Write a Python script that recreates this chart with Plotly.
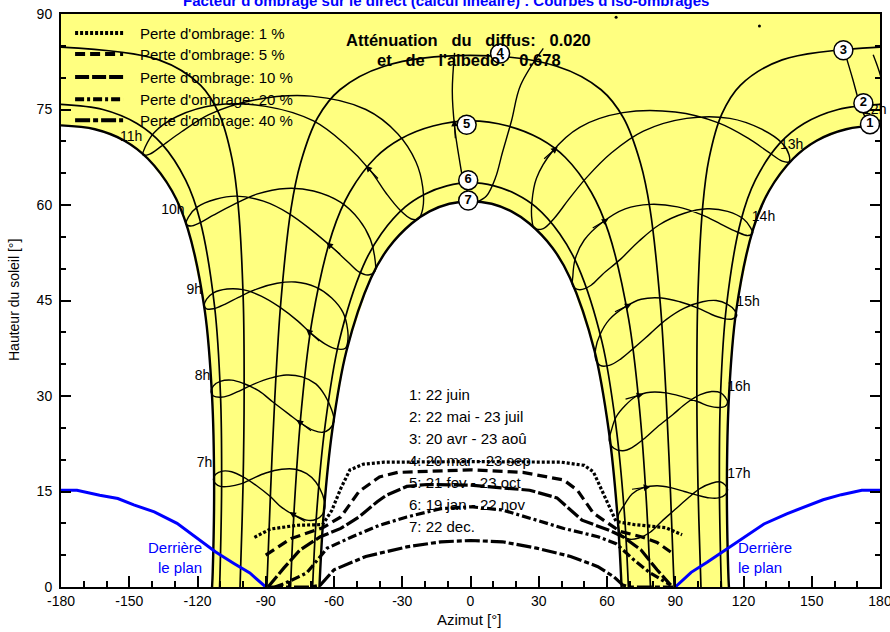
import math
import plotly.graph_objects as go

# ------------------------------------------------------------------ data
TITLE = "Facteur d'ombrage sur le direct (calcul linéaire) : Courbes d'iso-ombrages"
DIFFUSE_ATT = 0.020
ALBEDO_ATT = 0.678

DATE_LABELS = ["1: 22 juin", "2: 22 mai - 23 juil", "3: 20 avr - 23 aoû", "4: 20 mar - 23 sep",
               "5: 21 fev - 23 oct", "6: 19 jan - 22 nov", "7: 22 dec."]

# sun paths for the 7 dates : azimuth [deg] / sun height [deg]
P1_AZ = [-113.6, -113.3, -112.7, -113.6, -116.8, -124.3, -131.2, -141.9, -152.1, -165.1, -180.0,
         180.0, 165.1, 152.1, 141.9, 131.2, 124.3, 116.8, 113.6, 112.7, 113.3, 113.6]
P1_ALT = [0.0, 2.4, 16.1, 29.9, 43.4, 56.3, 62.2, 67.3, 70.1, 71.9, 72.5,
          72.5, 71.9, 70.1, 67.3, 62.2, 56.3, 43.4, 29.9, 16.1, 2.4, 0.0]
P2_AZ = [-110.3, -110.1, -109.4, -109.9, -112.5, -118.9, -125.2, -135.7, -146.6, -161.6, -180.0,
         180.0, 161.6, 146.6, 135.7, 125.2, 118.9, 112.5, 109.9, 109.4, 110.1, 110.3]
P2_ALT = [0.0, 2.1, 16.1, 30.2, 44.1, 57.6, 63.9, 69.6, 72.8, 75.0, 75.8,
          75.8, 75.0, 72.8, 69.6, 63.9, 57.6, 44.1, 30.2, 16.1, 2.1, 0.0]
P3_AZ = [-101.3, -101.2, -100.0, -99.5, -99.9, -102.1, -104.8, -110.5, -118.6, -137.0, -180.0,
         180.0, 137.0, 118.6, 110.5, 104.8, 102.1, 99.9, 99.5, 100.0, 101.2, 101.3]
P3_ALT = [0.0, 1.2, 15.8, 30.5, 45.2, 59.9, 67.2, 74.3, 78.8, 82.8, 84.8,
          84.8, 82.8, 78.8, 74.3, 67.2, 59.9, 45.2, 30.5, 15.8, 1.2, 0.0]
P4_AZ = [-89.5, -87.9, -86.0, -83.4, -78.9, -74.7, -67.2, -57.4, -37.9, 0.0,
         37.9, 57.4, 67.2, 74.7, 78.9, 83.4, 86.0, 87.9, 89.5]
P4_ALT = [0.0, 14.9, 29.8, 44.6, 59.4, 66.6, 73.7, 78.1, 81.8, 83.5,
          81.8, 78.1, 73.7, 66.6, 59.4, 44.6, 29.8, 14.9, 0.0]
P5_AZ = [-79.1, -77.3, -74.3, -69.5, -60.7, -53.1, -41.6, -30.6, -16.5, 0.0,
         16.5, 30.6, 41.6, 53.1, 60.7, 69.5, 74.3, 77.3, 79.1]
P5_ALT = [0.0, 13.5, 28.0, 42.1, 55.7, 62.0, 67.5, 70.4, 72.4, 73.2,
          72.4, 70.4, 67.5, 62.0, 55.7, 42.1, 28.0, 13.5, 0.0]
P6_AZ = [-69.4, -67.6, -63.9, -57.8, -47.2, -39.2, -28.7, -20.1, -10.4, 0.0,
         10.4, 20.1, 28.7, 39.2, 47.2, 57.8, 63.9, 67.6, 69.4]
P6_ALT = [0.0, 11.8, 25.4, 38.5, 50.4, 55.5, 59.7, 61.7, 63.0, 63.5,
          63.0, 61.7, 59.7, 55.5, 50.4, 38.5, 25.4, 11.8, 0.0]
P7_AZ = [-66.4, -64.6, -60.8, -54.5, -43.8, -36.0, -25.9, -18.0, -9.3, 0.0,
         9.3, 18.0, 25.9, 36.0, 43.8, 54.5, 60.8, 64.6, 66.4]
P7_ALT = [0.0, 11.2, 24.5, 37.1, 48.5, 53.3, 57.1, 59.0, 60.2, 60.6,
          60.2, 59.0, 57.1, 53.3, 48.5, 37.1, 24.5, 11.2, 0.0]

# hour lines (analemmas), one point every ~15 days starting 22 Dec
H07_AZ = [-64, -65, -68, -72, -77, -83, -88, -94, -100, -105, -109, -112, -113, -112, -110, -106, -101, -96, -90, -83, -77, -72, -68, -65]
H07_ALT = [12.7, 11.4, 10.6, 10.5, 11.2, 12.5, 14.2, 15.9, 17.3, 18.1, 18.2, 17.7, 16.9, 16.2, 15.8, 15.8, 16.2, 17.0, 17.9, 18.5, 18.5, 17.8, 16.5, 14.5]
H08_AZ = [-60, -62, -65, -69, -74, -80, -87, -93, -100, -105, -110, -113, -114, -113, -110, -106, -101, -95, -88, -81, -74, -68, -64, -61]
H08_ALT = [26.0, 24.8, 24.3, 24.6, 25.6, 27.2, 29.1, 30.8, 32.0, 32.5, 32.3, 31.6, 30.6, 30.0, 29.8, 30.1, 30.9, 31.9, 32.8, 33.3, 33.0, 31.9, 30.1, 27.8]
H09_AZ = [-54, -55, -59, -64, -70, -76, -84, -92, -100, -107, -113, -116, -117, -116, -113, -108, -102, -94, -85, -77, -68, -61, -56, -54]
H09_ALT = [38.5, 37.5, 37.4, 38.2, 39.8, 41.8, 44.0, 45.7, 46.7, 46.8, 46.2, 45.2, 44.1, 43.7, 43.7, 44.4, 45.5, 46.8, 47.7, 47.9, 47.1, 45.4, 43.1, 40.4]
H10_AZ = [-42, -45, -49, -54, -61, -70, -80, -91, -103, -112, -120, -124, -125, -123, -119, -113, -104, -94, -81, -69, -57, -49, -44, -42]
H10_ALT = [49.6, 49.0, 49.5, 51.1, 53.4, 56.1, 58.7, 60.6, 61.4, 60.9, 59.7, 58.1, 57.0, 56.7, 57.2, 58.4, 60.1, 61.7, 62.6, 62.2, 60.4, 57.7, 54.6, 51.5]
H11_AZ = [-23, -26, -31, -37, -44, -55, -69, -90, -112, -129, -139, -143, -144, -141, -136, -127, -115, -95, -70, -46, -32, -24, -21, -21]
H11_ALT = [57.8, 57.8, 59.2, 61.8, 65.4, 69.5, 73.2, 75.5, 75.7, 73.9, 71.4, 69.1, 67.9, 68.0, 69.2, 71.5, 74.2, 76.5, 77.1, 75.0, 71.2, 66.8, 62.8, 59.4]
H12_AZ = [3, 0, -3, -5, -7, -8, -7, 64, 164, 168, 171, 174, 177, 180, 181, 181, 177, 127, 32, 22, 18, 14, 11, 7]
H12_ALT = [60.5, 61.3, 63.7, 67.4, 72.3, 77.9, 83.9, 89.5, 84.6, 79.8, 76.0, 73.5, 72.5, 73.3, 75.6, 79.1, 83.6, 88.1, 84.6, 78.8, 73.2, 68.2, 64.3, 61.4]
H13_AZ = [28, 27, 27, 29, 36, 48, 67, 90, 109, 122, 131, 137, 140, 140, 137, 128, 114, 95, 76, 62, 51, 43, 37, 32]
H13_ALT = [56.4, 57.7, 60.5, 64.2, 68.4, 72.2, 74.5, 74.6, 72.9, 70.5, 68.3, 66.9, 66.8, 67.9, 69.7, 71.9, 73.6, 73.6, 71.6, 68.2, 64.3, 60.8, 58.0, 56.3]
H14_AZ = [45, 45, 46, 50, 58, 68, 79, 91, 102, 110, 117, 122, 124, 123, 120, 113, 104, 94, 83, 74, 66, 58, 53, 48]
H14_ALT = [47.3, 48.9, 51.5, 54.5, 57.3, 59.4, 60.1, 59.7, 58.4, 57.0, 55.8, 55.2, 55.6, 56.5, 57.8, 59.0, 59.4, 58.7, 56.9, 54.3, 51.5, 49.1, 47.4, 46.7]
H15_AZ = [55, 55, 57, 61, 68, 75, 84, 92, 100, 106, 111, 115, 117, 116, 113, 108, 102, 94, 86, 79, 72, 66, 61, 57]
H15_ALT = [35.8, 37.4, 39.7, 42.0, 44.0, 45.2, 45.4, 44.8, 43.8, 42.8, 42.2, 42.1, 42.6, 43.5, 44.4, 45.0, 44.8, 43.8, 42.0, 39.8, 37.6, 35.8, 34.8, 34.8]
H16_AZ = [61, 62, 64, 68, 73, 79, 86, 93, 100, 105, 109, 112, 113, 112, 110, 106, 101, 95, 89, 82, 76, 71, 67, 63]
H16_ALT = [23.0, 24.7, 26.7, 28.5, 30.0, 30.6, 30.5, 29.9, 29.1, 28.4, 28.2, 28.4, 29.1, 29.8, 30.5, 30.7, 30.2, 28.9, 27.1, 25.1, 23.2, 21.9, 21.4, 21.8]
H17_AZ = [65, 65, 68, 71, 76, 82, 88, 94, 100, 105, 109, 112, 113, 112, 110, 106, 101, 96, 90, 84, 79, 74, 70, 66]
H17_ALT = [9.7, 11.3, 13.1, 14.6, 15.6, 15.9, 15.6, 15.0, 14.4, 14.0, 14.0, 14.5, 15.3, 16.0, 16.5, 16.3, 15.5, 14.1, 12.2, 10.3, 8.6, 7.7, 7.5, 8.3]

# iso-shading curves
ISO_NAMES = ["Perte d'ombrage: 1 %", "Perte d'ombrage: 5 %", "Perte d'ombrage: 10 %",
             "Perte d'ombrage: 20 %", "Perte d'ombrage: 40 %"]
ISO1_AZ = [-95, -88, -76, -65, -61, -57, -53, -47, -38, 0, 40, 50, 54, 57, 61, 64, 72, 79, 86, 93]
ISO1_ALT = [7.8, 9.1, 9.7, 9.8, 12.0, 15.5, 18.4, 19.3, 19.6, 19.7, 19.6, 19.1, 18.1, 15.7, 12.6, 10.3, 9.8, 9.6, 9.3, 8.2]
ISO2_AZ = [-90, -79, -65, -57, -49, -40, -32, 0, 23, 41, 47, 54, 63, 66, 75, 82, 88]
ISO2_ALT = [5.0, 7.6, 9.3, 11.0, 15.0, 17.3, 18.0, 18.4, 18.0, 16.8, 15.2, 11.6, 9.4, 8.7, 7.9, 7.0, 5.5]
ISO3_AZ = [-89, -82, -75, -66, -57, -49, -41, -37, -28, -19, 0, 26, 38, 44, 49, 61, 67, 75, 82, 88]
ISO3_ALT = [0.0, 3.0, 5.8, 7.9, 9.2, 11.0, 13.4, 14.4, 15.8, 16.1, 16.0, 15.2, 14.0, 12.1, 10.5, 8.9, 7.9, 5.8, 2.7, 0.3]
ISO4_AZ = [-86, -82, -72, -63, -52, -40, -28, -13, 0, 14, 29, 41, 56, 64, 72, 79, 88]
ISO4_ALT = [0.0, 0.5, 2.2, 6.1, 7.9, 9.7, 11.0, 12.3, 12.6, 12.1, 10.5, 9.2, 7.9, 6.8, 4.2, 2.2, 0.3]
ISO5_AZ = [-89, -70, -66, -60, -46, -28, -13, 0, 14, 29, 44, 56, 63, 67, 70, 89]
ISO5_ALT = [0.0, 0.0, 0.3, 2.7, 4.8, 6.3, 7.1, 7.3, 7.1, 6.1, 4.8, 3.2, 1.6, 0.3, 0.0, 0.0]

# "behind the plane" limit
BEHIND_L_AZ = [-180, -173, -163, -155, -148, -139, -129, -119, -112, -104, -97, -90]
BEHIND_L_ALT = [15.2, 15.2, 14.4, 13.9, 12.9, 11.8, 10.0, 7.4, 5.5, 3.7, 2.2, 0.0]
BEHIND_R_AZ = [90, 97, 104, 112, 119, 129, 139, 148, 155, 163, 172, 180]
BEHIND_R_ALT = [0.0, 2.3, 3.9, 5.8, 7.5, 9.9, 11.5, 12.8, 13.7, 14.5, 15.2, 15.2]

# date markers
MARK_TXT = ["1", "2", "3", "4", "5", "6", "7"]
MARK_AZ = [175.6, 172.7, 163.9, 13.0, -1.7, -1.0, -1.0]
MARK_ALT = [72.7, 76.0, 84.3, 83.8, 72.6, 63.9, 60.7]

HOUR_LABELS = ["11h", "10h", "9h", "8h", "7h", "12h", "13h", "14h", "15h", "16h", "17h"]

X_TICKS = [-180, -150, -120, -90, -60, -30, 0, 30, 60, 90, 120, 150, 180]
X_TICKTEXT = ["-180", "-150", "-120", "-90", "-60", "-30", "0", "30", "60", "90", "120", "150", "180"]
Y_TICKS = [0, 15, 30, 45, 60, 75, 90]
Y_TICKTEXT = ["0", "15", "30", "45", "60", "75", "90"]

# ------------------------------------------------------------------ layout constants (positions / styles)
FONT = "Liberation Sans"
YELLOW = "#FFFF80"
BLUE = "#0000FF"
HOUR_LABEL_POS = [(-149.2, 70.6), (-130.8, 59.2), (-121.4, 46.5), (-117.8, 33.0), (-116.9, 19.4),
                  (177.7, 74.9), (141.2, 69.3), (128.8, 58.0), (122.0, 44.7), (118.0, 31.3), (118.0, 17.7)]
ISO_DASH = ["3px,2px", "10px,5px", "14px,3px", "9px,3px,3px,3px", "15px,3px,5px,3px"]
PX_PER_X = 819 / 360.0
PX_PER_Y = 573 / 90.0


def split_wrap(az, alt, thr):
    """Insert gaps where the azimuth jumps (wrap-around or near the zenith)."""
    X, Y = [], []
    prev = None
    for a, e in zip(az, alt):
        if prev is not None and abs(a - prev) > thr:
            X.append(None)
            Y.append(None)
        X.append(a)
        Y.append(e)
        prev = a
    return X, Y


fig = go.Figure()

# yellow area swept by the sun (between 22 June and 22 December paths)
wrap = [i for i in range(1, len(P1_AZ)) if abs(P1_AZ[i] - P1_AZ[i - 1]) > 180][0]
fill_x = [-180] + P1_AZ[:wrap][::-1] + P7_AZ + P1_AZ[wrap:][::-1] + [180]
fill_y = [90] + P1_ALT[:wrap][::-1] + P7_ALT + P1_ALT[wrap:][::-1] + [90]
fig.add_trace(go.Scatter(x=fill_x, y=fill_y, mode="lines", fill="toself", fillcolor=YELLOW,
                         line=dict(width=0), hoverinfo="skip"))

# hour lines
hour_sets = [(H07_AZ, H07_ALT), (H08_AZ, H08_ALT), (H09_AZ, H09_ALT), (H10_AZ, H10_ALT),
             (H11_AZ, H11_ALT), (H12_AZ, H12_ALT), (H13_AZ, H13_ALT), (H14_AZ, H14_ALT),
             (H15_AZ, H15_ALT), (H16_AZ, H16_ALT), (H17_AZ, H17_ALT)]
dot_x, dot_y = [], []
for az, alt in hour_sets:
    X, Y = split_wrap(az + az[:1], alt + alt[:1], 30)
    fig.add_trace(go.Scatter(x=X, y=Y, mode="lines", line=dict(color="black", width=1.4, shape="spline"),
                             hoverinfo="skip"))
    for i in range(len(X)):
        if X[i] is not None and (i == 0 or X[i - 1] is None) and (i == len(X) - 1 or X[i + 1] is None):
            dot_x.append(X[i])
            dot_y.append(Y[i])
fig.add_trace(go.Scatter(x=dot_x, y=dot_y, mode="markers", marker=dict(color="black", size=3), hoverinfo="skip"))

# date paths
paths = [(P1_AZ, P1_ALT), (P2_AZ, P2_ALT), (P3_AZ, P3_ALT), (P4_AZ, P4_ALT),
         (P5_AZ, P5_ALT), (P6_AZ, P6_ALT), (P7_AZ, P7_ALT)]
for k, (az, alt) in enumerate(paths):
    X, Y = split_wrap(az, alt, 180)
    fig.add_trace(go.Scatter(x=X, y=Y, mode="lines", name=DATE_LABELS[k],
                             line=dict(color="black", width=2.4 if k in (0, 6) else 1.7, shape="spline"),
                             hoverinfo="skip"))

# behind the plane
for az, alt in ((BEHIND_L_AZ, BEHIND_L_ALT), (BEHIND_R_AZ, BEHIND_R_ALT)):
    fig.add_trace(go.Scatter(x=az, y=alt, mode="lines", line=dict(color=BLUE, width=3), hoverinfo="skip"))

# iso-shading curves
iso_sets = [(ISO1_AZ, ISO1_ALT), (ISO2_AZ, ISO2_ALT), (ISO3_AZ, ISO3_ALT), (ISO4_AZ, ISO4_ALT), (ISO5_AZ, ISO5_ALT)]
for k, (az, alt) in enumerate(iso_sets):
    fig.add_trace(go.Scatter(x=az, y=alt, mode="lines", name=ISO_NAMES[k],
                             line=dict(color="black", width=3.2, dash=ISO_DASH[k]), hoverinfo="skip"))

# direction arrows on the hour lines (one per hour line)
for az, alt in hour_sets:
    dx = (az[5] - az[4]) * PX_PER_X
    dy = -(alt[5] - alt[4]) * PX_PER_Y
    n = math.hypot(dx, dy)
    ux, uy = dx / n, dy / n
    fig.add_annotation(x=az[4], y=alt[4], xshift=7 * ux, yshift=-7 * uy, ax=-20 * ux, ay=-20 * uy,
                       showarrow=True, arrowhead=2, arrowsize=1.1, arrowwidth=1.2, arrowcolor="black", text="")

# hour labels (under the date markers)
fig.add_trace(go.Scatter(x=[p[0] for p in HOUR_LABEL_POS], y=[p[1] for p in HOUR_LABEL_POS], mode="text",
                         text=HOUR_LABELS, textposition="middle center",
                         textfont=dict(family=FONT, size=14, color="black"), hoverinfo="skip", cliponaxis=False))

# date markers
fig.add_trace(go.Scatter(x=MARK_AZ, y=MARK_ALT, mode="markers+text", text=MARK_TXT, textposition="middle center",
                         marker=dict(size=19, color="white", line=dict(color="black", width=1.5)),
                         textfont=dict(family=FONT, size=13, color="black", weight="bold"),
                         hoverinfo="skip", cliponaxis=False))

# legend of iso curves (drawn at the reference position)
leg_alt = [87.0, 83.7, 80.1, 76.6, 73.3]
for k in range(5):
    fig.add_shape(type="line", x0=-173.8, x1=-152.7, y0=leg_alt[k], y1=leg_alt[k], xref="x", yref="y",
                  line=dict(color="black", width=4, dash=ISO_DASH[k]))
    fig.add_annotation(x=-146.3, y=leg_alt[k], text=ISO_NAMES[k], showarrow=False, xanchor="left",
                       font=dict(family=FONT, size=15, color="black"))

# list of dates
for k, lab in enumerate(DATE_LABELS):
    fig.add_annotation(x=-27.8, y=30.2 - 3.46 * k, text=lab, showarrow=False, xanchor="left",
                       font=dict(family=FONT, size=15, color="black"))

# attenuation text
sp = "\u00a0\u00a0 "
fig.add_annotation(x=-1.1, y=85.9, text="<b>Atténuation" + sp + "du" + sp + "diffus:" + sp + "%.3f</b>" % DIFFUSE_ATT,
                   showarrow=False, font=dict(family=FONT, size=16.5, color="black"))
fig.add_annotation(x=-0.8, y=82.7, text="<b>et" + sp + "de" + sp + "l'albedo:" + sp + "%.3f</b>" % ALBEDO_ATT,
                   showarrow=False, font=dict(family=FONT, size=16.5, color="black"))

# behind the plane labels
fig.add_annotation(x=-117.1, y=4.7, text="Derrière<br>le plan", showarrow=False, xanchor="right", align="right",
                   font=dict(family=FONT, size=15, color=BLUE))
fig.add_annotation(x=116.7, y=4.7, text="Derrière<br>le plan", showarrow=False, xanchor="left", align="left",
                   font=dict(family=FONT, size=15, color=BLUE))

# axis titles and chart title
fig.add_annotation(x=(469 - 61) / 819.0, y=(587 - 620) / 573.0, xref="paper", yref="paper", text="Azimut [°]",
                   showarrow=False, xanchor="center", yanchor="middle", font=dict(family=FONT, size=15, color="black"))
fig.add_annotation(x=(14 - 61) / 819.0, y=(587 - 300) / 573.0, xref="paper", yref="paper",
                   text="Hauteur du soleil [°]", showarrow=False, textangle=-90, xanchor="center", yanchor="middle",
                   font=dict(family=FONT, size=14, color="black"))
fig.add_annotation(x=(446 - 61) / 819.0, y=(587 - 1) / 573.0, xref="paper", yref="paper", xanchor="center",
                   yanchor="middle", text="<b>" + TITLE + "</b>", showarrow=False,
                   font=dict(family=FONT, size=15, color=BLUE))

fig.update_layout(
    width=890, height=632, margin=dict(l=61, r=10, t=14, b=45, autoexpand=False), showlegend=False,
    plot_bgcolor="white", paper_bgcolor="white", hovermode=False,
    font=dict(family=FONT, color="black"),
)
fig.update_xaxes(range=[-180, 180], tickvals=X_TICKS, ticktext=X_TICKTEXT, showline=True, linecolor="black",
                 linewidth=2, mirror=True, ticks="inside", ticklen=11, tickwidth=1.5, tickcolor="black",
                 minor=dict(dtick=10, ticks="inside", ticklen=6, tickcolor="black", tickwidth=1.5),
                 showgrid=False, zeroline=False, tickfont=dict(family=FONT, size=14, color="black"),
                 automargin=False, ticklabeloverflow="allow")
fig.update_yaxes(range=[0, 90], tickvals=Y_TICKS, ticktext=Y_TICKTEXT, showline=True, linecolor="black",
                 linewidth=2, mirror="ticks", ticks="inside", ticklen=10, tickwidth=1.5, tickcolor="black",
                 minor=dict(dtick=5, ticks="inside", ticklen=5, tickcolor="black", tickwidth=1.5),
                 showgrid=False, zeroline=False, tickfont=dict(family=FONT, size=14, color="black"),
                 ticklabelstandoff=4, automargin=False, ticklabeloverflow="allow")
fig.write_html("out.html", config={"displayModeBar": False},
               post_script="document.body.style.margin='0px';")
